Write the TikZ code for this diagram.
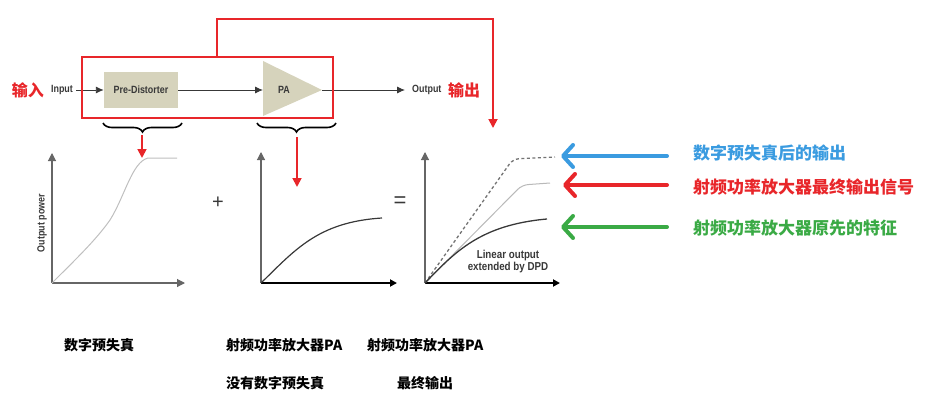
\documentclass[tikz,border=0pt]{standalone}
\usepackage{graphicx}
\usepackage{fontspec}
\setmainfont{Liberation Sans}
\newfontfamily\cjk{Noto Sans CJK SC}
\usetikzlibrary{arrows.meta,decorations.pathreplacing}
\definecolor{redc}{HTML}{E8262A}
\definecolor{bluec}{HTML}{3A9BE0}
\definecolor{greenc}{HTML}{3AAA45}
\definecolor{boxfill}{HTML}{D6D3BC}
\definecolor{linec}{HTML}{383838}
\newcommand\cnd[1]{\scalebox{0.85}[1]{#1}}
\begin{document}
\begin{tikzpicture}[x=1pt,y=-1pt,
  lat/.style={font=\fontsize{10.5}{12}\selectfont\bfseries, text=linec, inner sep=0pt},
  cnred/.style={font=\fontsize{16}{18}\selectfont\cjk\bfseries, text=redc, inner sep=0pt},
  cnbot/.style={font=\fontsize{14}{16}\selectfont\cjk\bfseries, text=black, inner sep=0pt},
  cnside/.style={font=\fontsize{17}{19}\selectfont\cjk\bfseries, inner sep=0pt, anchor=west},
  flow/.style={draw=linec, line width=0.9pt, -{Latex[length=8pt,width=7pt]}},
  redarr/.style={draw=redc, line width=1.8pt, -{Triangle[length=9pt,width=9pt]}},
  axg/.style={draw=gray!80!black, line width=1.1pt, -{Triangle[length=8pt,width=8pt]}},
  axb/.style={draw=black, line width=2.4pt, -{Triangle[length=7pt,width=7pt]}},
  brc/.style={draw=black, line width=1.6pt, decorate, decoration={brace, amplitude=9pt}},
  sidearr/.style={line width=4pt, line cap=round, -{Straight Barb[length=10pt,width=22pt,round]}}
]
\useasboundingbox (0,0) rectangle (935,404);

% block diagram
\node[cnred] (inzh) at (28,90) {输入};
\node[lat] (inp) at (62,90) {\cnd{Input}};
\node[lat, fill=boxfill, minimum width=74pt, minimum height=36pt] (pd) at (141,90) {\cnd{Pre-Distorter}};
\fill[boxfill] (263,61) -- (322,90) -- (263,116) -- cycle;
\coordinate (pain) at (263,90);
\coordinate (paout) at (322,90);
\node[lat] (pa) at (284,90) {\cnd{PA}};
\node[lat, anchor=west] (outp) at (412,90) {\cnd{Output}};
\node[cnred, anchor=west] (outzh) at (448,90) {输出};
\draw[flow] ([xshift=3pt]inp.east) -- (pd.west);
\draw[flow] (pd.east) -- (pain);
\draw[flow] (paout) -- ([xshift=-7pt]outp.west);

% red box and feedback
\draw[redc, line width=1.8pt] (82,57) rectangle (333,118);
\coordinate (fb0) at (217,57);
\coordinate (fb1) at (493,128);
\draw[redarr] (fb0) |- (493,19) -- (fb1);

% braces
\draw[brc] (182,123) -- (103,123);
\draw[brc] (336,123) -- (257,123);
\coordinate (b1) at (142,135);
\coordinate (b1t) at (142,158);
\coordinate (b2) at (297,137);
\coordinate (b2t) at (297,187);
\draw[redarr] (b1) -- (b1t);
\draw[redarr] (b2) -- (b2t);

% graph 1
\coordinate (o1) at (52,283);
\draw[axg] (o1) -- (52,153);
\draw[axg] (o1) -- (185,283);
\draw[gray!50, line width=1pt] (o1) .. controls (75,260) and (96,240) .. (110,220) .. controls (125,196) and (132,162) .. (148,158) -- (177,158);
\node[lat, rotate=90] (op) at (42,223) {\cnd{Output power}};

\node[font=\fontsize{20}{20}\selectfont, text=linec, inner sep=0pt] (plus) at (218,203) {+};

% graph 2
\coordinate (o2) at (261,283);
\draw[axg] (o2) -- (261,152);
\draw[axb] (o2) -- (397,283);
\draw[linec, line width=1.2pt] (o2) .. controls (295,250) and (318,222) .. (382,218);

\node[font=\fontsize{22}{22}\selectfont, text=linec, inner sep=0pt] (eq) at (400,202) {=};

% graph 3
\coordinate (o3) at (425,283);
\draw[axg] (o3) -- (425,152);
\draw[axb] (o3) -- (560,283);
\draw[gray!55, line width=1pt, rounded corners=6pt] (o3) -- (522,185) -- (550,183);
\draw[gray!90!black, line width=1.3pt, dash pattern=on 3pt off 2.5pt, rounded corners=6pt] (o3) -- (513,159) -- (555,157);
\draw[linec, line width=1.3pt] (o3) .. controls (455,252) and (480,225) .. (547,219);
\node[lat, align=center, font=\fontsize{11.5}{12}\selectfont\bfseries] (lin) at (508,262) {\cnd{Linear output}\\\cnd{extended by DPD}};

% side arrows and labels
\node[cnside, text=bluec] (t1) at (693,153) {数字预失真后的输出};
\node[cnside, text=redc] (t2) at (693,187) {射频功率放大器最终输出信号};
\node[cnside, text=greenc] (t3) at (693,228) {射频功率放大器原先的特征};
\coordinate (a1) at (561,156);
\coordinate (a2) at (563,185);
\coordinate (a3) at (561,227);
\draw[sidearr, bluec] (667,156) -- (a1);
\draw[sidearr, redc] (667,185) -- (a2);
\draw[sidearr, greenc] (667,227) -- (a3);

% bottom labels
\node[cnbot] (c1) at (99,345) {数字预失真};
\node[cnbot, anchor=west] (c2) at (226,345) {射频功率放大器PA};
\node[cnbot, anchor=west] (c3) at (226,383) {没有数字预失真};
\node[cnbot, anchor=west] (c4) at (367,345) {射频功率放大器PA};
\node[cnbot] (c5) at (425,383) {最终输出};
\end{tikzpicture}
\end{document}
